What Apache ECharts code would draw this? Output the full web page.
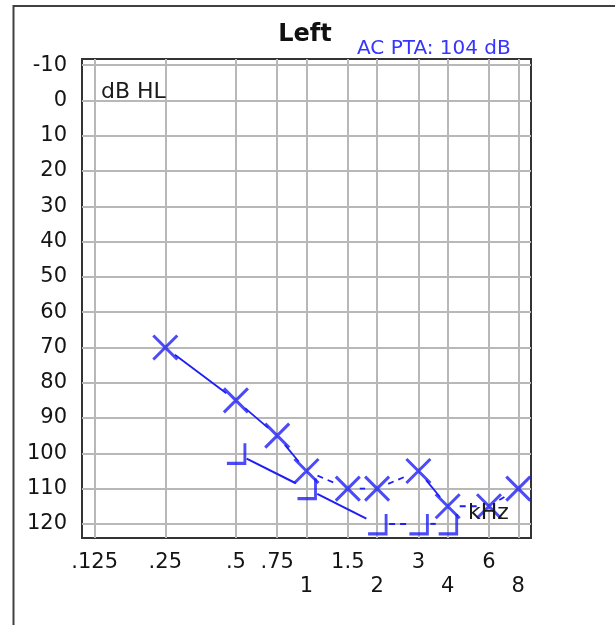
<!DOCTYPE html>
<html>
<head>
<meta charset="utf-8">
<script src="https://cdn.jsdelivr.net/npm/echarts@6/dist/echarts.min.js"></script>
<style>
html,body{margin:0;padding:0;background:#fff;}
#chart{width:615px;height:625px;}
</style>
</head>
<body>
<div id="chart"></div>
<script>
// ---- data ----
const freqLabels = ['.125', '.25', '.5', '.75', '1', '1.5', '2', '3', '4', '6', '8'];
const freqValues = [0.125, 0.25, 0.5, 0.75, 1, 1.5, 2, 3, 4, 6, 8];
const secondRowFreqs = [1, 2, 4, 8];
const dbTicks = [-10, 0, 10, 20, 30, 40, 50, 60, 70, 80, 90, 100, 110, 120];

const acFreqs = [0.25, 0.5, 0.75, 1, 1.5, 2, 3, 4, 6, 8];
const acLevels = [70, 85, 95, 105, 110, 110, 105, 115, 115, 110];
const acSegmentDashed = [false, false, false, true, true, true, false, true, true];

const bcFreqs = [0.5, 1, 2, 3, 4];
const bcLevels = [100, 110, 120, 120, 120];
const bcSegmentDashed = [false, false, true, true];

const titleText = 'Left';
const ptaText = 'AC PTA: 104 dB';
const yUnitText = 'dB HL';
const xUnitText = 'kHz';

// ---- build ----
const BLUE = '#1e1ef5';
const FONT = '"DejaVu Sans", sans-serif';
const lg = f => Math.log2(f);

function segs(freqs, levels, dashed) {
  const out = [];
  for (let i = 0; i < freqs.length - 1; i++) {
    out.push([lg(freqs[i]), levels[i], lg(freqs[i + 1]), levels[i + 1], dashed[i] ? 1 : 0]);
  }
  return out;
}

function segRenderer(gap, width) {
  return function (params, api) {
    const p1 = api.coord([api.value(0), api.value(1)]);
    const p2 = api.coord([api.value(2), api.value(3)]);
    const dx = p2[0] - p1[0], dy = p2[1] - p1[1];
    const len = Math.sqrt(dx * dx + dy * dy);
    if (len <= 2 * gap + 1) return null;
    const ux = dx / len, uy = dy / len;
    return {
      type: 'line',
      shape: {
        x1: p1[0] + ux * gap, y1: p1[1] + uy * gap,
        x2: p2[0] - ux * gap, y2: p2[1] - uy * gap
      },
      style: {
        stroke: BLUE, lineWidth: width,
        lineDash: api.value(4) ? [6, 5] : null
      }
    };
  };
}

const chart = echarts.init(document.getElementById('chart'), null, {renderer: 'canvas'});

const xTickVals = freqValues.map(lg);

chart.setOption({
  backgroundColor: '#fff',
  animation: false,
  grid: {
    left: 82, top: 59, right: 84, bottom: 87,
    show: true, borderColor: '#333', borderWidth: 2, backgroundColor: 'transparent'
  },
  xAxis: {
    type: 'value', min: -3.18, max: 3.18,
    axisLine: {show: false},
    axisTick: {show: false, customValues: xTickVals},
    splitLine: {show: true, lineStyle: {color: '#b8b8b8', width: 2}},
    axisLabel: {
      customValues: xTickVals,
      margin: 13,
      fontFamily: FONT, fontSize: 21, color: '#141414', lineHeight: 24,
      verticalAlign: 'top',
      formatter: function (v) {
        let idx = -1;
        freqValues.forEach((f, i) => { if (Math.abs(lg(f) - v) < 1e-6) idx = i; });
        if (idx < 0) return '';
        const lab = freqLabels[idx];
        return secondRowFreqs.indexOf(freqValues[idx]) >= 0 ? '\n' + lab : lab;
      }
    }
  },
  yAxis: {
    type: 'value', inverse: true, min: -11.75, max: 124,
    axisLine: {show: false},
    axisTick: {show: false, customValues: dbTicks},
    splitLine: {show: true, lineStyle: {color: '#b8b8b8', width: 2}},
    axisLabel: {
      customValues: dbTicks,
      margin: 15,
      fontFamily: FONT, fontSize: 21, color: '#141414'
    }
  },
  graphic: [
    {type: 'rect', shape: {x: 13.5, y: 6, width: 800, height: 800},
     style: {fill: 'none', stroke: '#404040', lineWidth: 2}, silent: true},
    {type: 'text', x: 305, y: 34.5,
     style: {text: titleText, font: 'bold 24px ' + FONT, fill: '#111', align: 'center', verticalAlign: 'middle'}},
    {type: 'text', x: 357, y: 48.5,
     style: {text: ptaText, font: '20px ' + FONT, fill: '#3535ff', align: 'left', verticalAlign: 'middle'}},
    {type: 'text', x: 101, y: 92.5, z: 10,
     style: {text: yUnitText, font: '22px ' + FONT, fill: '#1a1a1a', align: 'left', verticalAlign: 'middle'}},
    {type: 'text', x: 468, y: 513, z: 10,
     style: {text: xUnitText, font: '22px ' + FONT, fill: '#1a1a1a', align: 'left', verticalAlign: 'middle'}}
  ],
  series: [
    {
      type: 'custom', name: 'AC line',
      renderItem: segRenderer(12, 1.8),
      encode: {x: [0, 2], y: [1, 3]},
      data: segs(acFreqs, acLevels, acSegmentDashed),
      z: 3, silent: true
    },
    {
      type: 'custom', name: 'BC line',
      renderItem: segRenderer(12, 2),
      encode: {x: [0, 2], y: [1, 3]},
      data: segs(bcFreqs, bcLevels, bcSegmentDashed),
      z: 3, silent: true
    },
    {
      type: 'scatter', name: 'AC',
      symbol: 'path://M0,0L20,20M20,0L0,20',
      symbolSize: 24,
      itemStyle: {color: 'rgba(0,0,0,0)', borderColor: BLUE, borderWidth: 3},
      data: acFreqs.map((f, i) => [lg(f), acLevels[i]]),
      z: 4, silent: true
    },
    {
      type: 'scatter', name: 'BC',
      symbol: 'path://M18,0L18,20L0,20',
      symbolSize: [18, 20],
      itemStyle: {color: 'rgba(0,0,0,0)', borderColor: BLUE, borderWidth: 3},
      data: bcFreqs.map((f, i) => [lg(f), bcLevels[i]]),
      z: 4, silent: true
    }
  ]
});
</script>
</body>
</html>
